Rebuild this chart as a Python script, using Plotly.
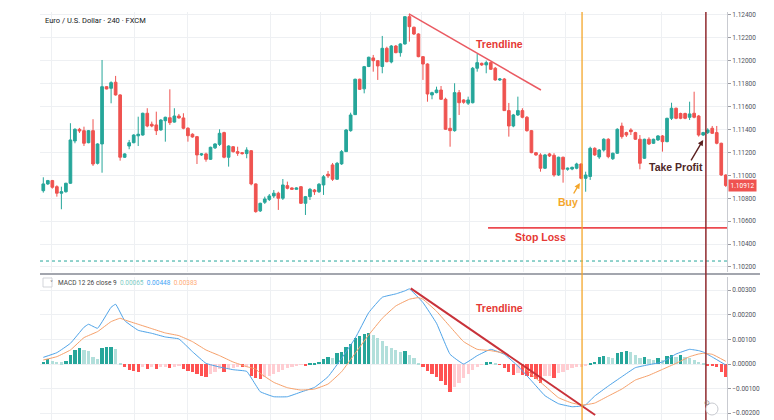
import plotly.graph_objects as go

# ---------------- data ----------------
candle_idx = list(range(152))
open_ = [1.10866,1.10925,1.10954,1.10901,1.10844,1.10857,1.10931,1.11300,1.11402,1.11390,
         1.11285,1.11390,1.11105,1.11274,1.11774,1.11760,1.11813,1.11702,1.11158,1.11256,
         1.11285,1.11345,1.11352,1.11542,1.11446,1.11440,1.11396,1.11477,1.11503,1.11465,
         1.11518,1.11501,1.11411,1.11359,1.11338,1.11178,1.11187,1.11140,1.11240,1.11270,
         1.11373,1.11158,1.11250,1.11207,1.11198,1.11190,1.11215,1.10925,1.10690,1.10765,
         1.10790,1.10820,1.10844,1.10800,1.10910,1.10890,1.10878,1.10901,1.10756,1.10814,
         1.10872,1.10857,1.10916,1.11010,1.11091,1.10966,1.11100,1.11207,1.11390,1.11530,
         1.11839,1.11755,1.11950,1.12025,1.12001,1.11950,1.12109,1.11990,1.12129,1.12071,
         1.12147,1.12385,1.12293,1.12234,1.12036,1.11972,1.11702,1.11722,1.11745,1.11664,
         1.11411,1.11390,1.11722,1.11658,1.11630,1.11634,1.11935,1.11978,1.11964,1.11984,
         1.11935,1.11833,1.11841,1.11565,1.11431,1.11527,1.11565,1.11507,1.11390,1.11198,
         1.11178,1.11062,1.11187,1.11175,1.11003,1.11158,1.11053,1.11055,1.11062,1.11099,
         1.10974,1.10990,1.11236,1.11160,1.11221,1.11315,1.11145,1.11193,1.11430,1.11373,
         1.11396,1.11373,1.11315,1.11149,1.11315,1.11280,1.11309,1.11344,1.11294,1.11498,
         1.11586,1.11540,1.11540,1.11507,1.11542,1.11518,1.11352,1.11373,1.11411,1.11373,
         1.11280,1.11003]
high = [1.10983,1.10960,1.10960,1.10913,1.10901,1.10935,1.11455,1.11411,1.11414,1.11425,
        1.11396,1.11490,1.11280,1.12007,1.11780,1.11821,1.11868,1.11708,1.11193,1.11309,
        1.11359,1.11512,1.11547,1.11586,1.11469,1.11556,1.11490,1.11512,1.11751,1.11586,
        1.11536,1.11542,1.11420,1.11367,1.11344,1.11193,1.11198,1.11250,1.11280,1.11402,
        1.11381,1.11262,1.11256,1.11250,1.11204,1.11245,1.11221,1.10930,1.10761,1.10814,
        1.10837,1.10872,1.10857,1.10968,1.10945,1.10896,1.10896,1.10905,1.10820,1.10890,
        1.10881,1.10933,1.11003,1.11038,1.11108,1.11117,1.11221,1.11405,1.11547,1.11844,
        1.11844,1.11955,1.12036,1.12051,1.12007,1.12217,1.12123,1.12138,1.12138,1.12153,
        1.12391,1.12409,1.12298,1.12240,1.12042,1.11978,1.11730,1.11774,1.11780,1.11678,
        1.11501,1.11804,1.11745,1.11664,1.11687,1.11946,1.12060,1.11984,1.12001,1.11990,
        1.11946,1.11850,1.11850,1.11632,1.11536,1.11687,1.11586,1.11518,1.11396,1.11204,
        1.11193,1.11187,1.11196,1.11193,1.11163,1.11163,1.11068,1.11076,1.11110,1.11105,
        1.11032,1.11250,1.11245,1.11230,1.11324,1.11324,1.11198,1.11411,1.11460,1.11381,
        1.11411,1.11380,1.11352,1.11320,1.11332,1.11320,1.11352,1.11352,1.11503,1.11634,
        1.11591,1.11547,1.11547,1.11643,1.11730,1.11527,1.11380,1.11411,1.11431,1.11431,
        1.11285,1.11009]
low = [1.10849,1.10916,1.10884,1.10814,1.10704,1.10849,1.10925,1.11280,1.11370,1.11256,
       1.11280,1.11082,1.11095,1.11023,1.11751,1.11629,1.11696,1.11128,1.11152,1.11228,
       1.11280,1.11256,1.11346,1.11420,1.11420,1.11352,1.11390,1.11294,1.11440,1.11460,
       1.11495,1.11402,1.11294,1.11329,1.11099,1.11170,1.11119,1.11134,1.11230,1.11256,
       1.11149,1.11076,1.11198,1.11170,1.11181,1.11149,1.10913,1.10674,1.10680,1.10750,
       1.10776,1.10802,1.10698,1.10785,1.10878,1.10872,1.10875,1.10750,1.10654,1.10785,
       1.10829,1.10846,1.10829,1.10977,1.10951,1.10960,1.11091,1.11204,1.11381,1.11527,
       1.11745,1.11716,1.11945,1.11905,1.11833,1.11891,1.11987,1.11978,1.12066,1.12036,
       1.12141,1.12167,1.12225,1.12031,1.11833,1.11643,1.11664,1.11716,1.11658,1.11396,
       1.11250,1.11381,1.11527,1.11625,1.11614,1.11628,1.11905,1.11955,1.11891,1.11920,
       1.11826,1.11824,1.11562,1.11338,1.11420,1.11518,1.11498,1.11381,1.11193,1.11170,
       1.11032,1.11055,1.11160,1.10988,1.10995,1.10936,1.11040,1.11045,1.11053,1.10966,
       1.10857,1.10960,1.11170,1.11143,1.11207,1.11149,1.11134,1.11187,1.11320,1.11335,
       1.11352,1.11309,1.11053,1.11143,1.11265,1.11274,1.11300,1.11207,1.11289,1.11483,
       1.11490,1.11490,1.11490,1.11483,1.11498,1.11338,1.11344,1.11361,1.11361,1.11271,
       1.10995,1.10898]
close = [1.10925,1.10954,1.10896,1.10844,1.10857,1.10931,1.11309,1.11402,1.11387,1.11280,
         1.11390,1.11099,1.11274,1.11774,1.11754,1.11809,1.11702,1.11158,1.11187,1.11285,
         1.11352,1.11359,1.11542,1.11431,1.11431,1.11390,1.11483,1.11507,1.11460,1.11518,
         1.11501,1.11411,1.11346,1.11335,1.11178,1.11187,1.11140,1.11245,1.11274,1.11367,
         1.11158,1.11256,1.11207,1.11193,1.11190,1.11221,1.10925,1.10683,1.10756,1.10794,
         1.10820,1.10844,1.10800,1.10916,1.10887,1.10878,1.10890,1.10756,1.10814,1.10878,
         1.10857,1.10922,1.10988,1.10995,1.10966,1.11105,1.11207,1.11396,1.11527,1.11839,
         1.11751,1.11949,1.12031,1.12001,1.11955,1.12109,1.11992,1.12129,1.12071,1.12147,
         1.12385,1.12298,1.12234,1.12036,1.11972,1.11710,1.11722,1.11745,1.11664,1.11402,
         1.11390,1.11722,1.11634,1.11638,1.11658,1.11935,1.11984,1.11964,1.11984,1.11926,
         1.11833,1.11841,1.11565,1.11431,1.11527,1.11565,1.11507,1.11390,1.11198,1.11178,
         1.11062,1.11178,1.11169,1.11003,1.11158,1.11053,1.11062,1.11070,1.11099,1.10974,
         1.11003,1.11236,1.11178,1.11221,1.11315,1.11163,1.11193,1.11402,1.11338,1.11352,
         1.11381,1.11315,1.11105,1.11315,1.11274,1.11315,1.11344,1.11294,1.11498,1.11586,
         1.11498,1.11498,1.11498,1.11536,1.11507,1.11352,1.11373,1.11396,1.11367,1.11280,
         1.11003,1.10912]

hist = [9.5e-5,19e-5,13.6e-5,9.5e-5,6.8e-5,13.6e-5,36.6e-5,57e-5,63.8e-5,57e-5,
        54.3e-5,27e-5,19e-5,63.8e-5,67.9e-5,70.6e-5,59.7e-5,5.4e-5,-13.6e-5,-24.4e-5,
        -27.1e-5,-31.2e-5,-10.9e-5,-21.7e-5,-13.6e-5,-21.7e-5,-13.6e-5,-10.9e-5,-16.3e-5,-10.9e-5,
        -8.1e-5,-21.7e-5,-27.1e-5,-31.2e-5,-40.7e-5,-48.9e-5,-54.3e-5,-40.7e-5,-31.2e-5,-21.7e-5,
        -31.2e-5,-21.7e-5,-17.6e-5,-13.6e-5,-13.6e-5,-10.9e-5,-48.9e-5,-58e-5,-62.4e-5,-54.3e-5,
        -48.9e-5,-40.7e-5,-31.2e-5,-24.4e-5,-17.6e-5,-10.9e-5,-6.8e-5,-2.7e-5,-4.1e-5,2.7e-5,
        5.4e-5,9.5e-5,19e-5,27.1e-5,26e-5,43.4e-5,50.2e-5,67.9e-5,81.4e-5,104.5e-5,
        114e-5,122.1e-5,124.8e-5,118e-5,104.5e-5,95e-5,73.3e-5,63.8e-5,57e-5,47e-5,
        52e-5,36.6e-5,23.1e-5,5.4e-5,-13.6e-5,-27.1e-5,-40.7e-5,-54.3e-5,-67.9e-5,-85.5e-5,
        -112.6e-5,-95e-5,-78.7e-5,-58.4e-5,-40.7e-5,-24.4e-5,-10.9e-5,-1.4e-5,8.1e-5,9e-5,
        2.7e-5,-1e-5,-17.6e-5,-31.2e-5,-44.8e-5,-38e-5,-44.8e-5,-48.9e-5,-54.3e-5,-62.4e-5,
        -76e-5,-48.9e-5,-47e-5,-58.4e-5,-38e-5,-31.2e-5,-24.4e-5,-17.6e-5,-13.6e-5,-10.9e-5,
        -6.8e-5,5.4e-5,9.5e-5,27.1e-5,32.6e-5,27.1e-5,26e-5,46.1e-5,50.2e-5,51e-5,
        49e-5,36.6e-5,26e-5,28e-5,19e-5,18e-5,23.1e-5,16.3e-5,32.6e-5,36.6e-5,
        29.9e-5,36.6e-5,27.1e-5,23.1e-5,16.3e-5,9.5e-5,2.7e-5,-5.4e-5,-8.1e-5,-10.9e-5,
        -31.2e-5,-51.6e-5]

macd_x = [0,3,6,9,10,12,15,16,18,21,24,27,30,33,36,39,42,45,47,48,51,54,57,60,63,66,69,72,75,78,
          80,81,84,87,90,93,96,99,102,105,108,111,114,117,119,120,122,125,128,131,134,137,140,143,
          145,146,148,151]
macd_line = [27.1e-5,46.1e-5,84.1e-5,149.3e-5,161.5e-5,145.2e-5,230.7e-5,242.9e-5,176.4e-5,137.1e-5,
             124.8e-5,109.9e-5,101.8e-5,50.2e-5,2.7e-5,-12.2e-5,-23.1e-5,-29.9e-5,-85.5e-5,-112.6e-5,
             -133e-5,-133e-5,-114e-5,-95e-5,-51.6e-5,23.1e-5,104.5e-5,209e-5,271.4e-5,285e-5,
             297.2e-5,305.3e-5,249.7e-5,165.6e-5,39.4e-5,0.0,33.9e-5,59.7e-5,39.4e-5,-8.1e-5,
             -67.9e-5,-128.9e-5,-161.5e-5,-173.7e-5,-171e-5,-165.6e-5,-130.3e-5,-89.6e-5,-51.6e-5,-14.9e-5,
             -2.7e-5,8.1e-5,40.7e-5,59.7e-5,54.3e-5,48.9e-5,28.5e-5,-4.1e-5]

signal_x = [0,3,6,9,12,15,17,18,21,24,27,30,33,36,39,42,45,47,48,51,54,57,60,63,66,69,72,75,78,81,
            83,84,87,90,93,96,99,102,105,108,111,114,117,119,120,122,125,128,131,134,137,140,143,145,
            146,148,151]
signal_line = [16.3e-5,29.9e-5,57e-5,107.2e-5,131.6e-5,172.3e-5,185.9e-5,179.1e-5,161.5e-5,143.8e-5,
               126.2e-5,115.3e-5,90.9e-5,57e-5,33.9e-5,8.1e-5,-10.9e-5,-20.4e-5,-38e-5,-74.6e-5,
               -96.3e-5,-105.8e-5,-101.8e-5,-81.4e-5,-31.2e-5,43.4e-5,118.1e-5,185.9e-5,236.1e-5,263.3e-5,
               270e-5,263.3e-5,214.4e-5,152e-5,90.9e-5,59.7e-5,54.3e-5,43.4e-5,9.5e-5,-42.1e-5,
               -89.6e-5,-137.1e-5,-158.8e-5,-165.6e-5,-165.6e-5,-158.8e-5,-130.3e-5,-101.8e-5,-65.1e-5,-46.1e-5,
               -21.7e-5,2.7e-5,29.9e-5,40.7e-5,43.4e-5,39.4e-5,10.9e-5]

price_ticks = [1.102,1.104,1.106,1.108,1.110,1.112,1.114,1.116,1.118,1.120,1.122,1.124]
macd_ticks = [-0.002,-0.001,0.0,0.001,0.002,0.003]
last_price = 1.10912
stop_loss = 1.10541
dotted_level = 1.10252
buy_bar = 119.2
tp_bar = 146.6
trend_price = ([80.9, 110.1], [1.12409, 1.11745])
trend_macd = ([81.3, 122.1], [0.003077, -0.002073])
legend_vals = ["0.00065", "0.00448", "0.00383"]

# ---------------- styling ----------------
UP, DOWN = "#26a69a", "#ef5350"
GRID = "#eef0f3"
FONT = "Roboto"
XR = [-0.73, 151.27]
grid_x = [1.9, 20.1, 32.0, 50.2, 61.4, 72.5, 83.6, 94.4, 106.3, 115.6, 136.7]

hist_colors = []
for i, v in enumerate(hist):
    prev = hist[i - 1] if i > 0 else v
    if v >= 0:
        hist_colors.append("#26a69a" if v >= prev else "#b2dfdb")
    else:
        hist_colors.append("#ff5252" if v <= prev else "#ffcdd2")

fig = go.Figure()
fig.add_trace(go.Candlestick(
    x=candle_idx, open=open_, high=high, low=low, close=close,
    increasing=dict(line=dict(color=UP, width=1), fillcolor=UP),
    decreasing=dict(line=dict(color=DOWN, width=1), fillcolor=DOWN),
    whiskerwidth=0, showlegend=False, hoverinfo="skip", xaxis="x", yaxis="y"))
fig.add_trace(go.Bar(x=candle_idx, y=hist, marker=dict(color=hist_colors, line=dict(width=0)),
                     width=0.72, showlegend=False, hoverinfo="skip", xaxis="x2", yaxis="y2"))
fig.add_trace(go.Scatter(x=macd_x, y=macd_line, mode="lines",
                         line=dict(color="#4ea3e8", width=1, shape="spline", smoothing=0.3),
                         showlegend=False, hoverinfo="skip", xaxis="x2", yaxis="y2"))
fig.add_trace(go.Scatter(x=signal_x, y=signal_line, mode="lines",
                         line=dict(color="#f6a06a", width=1, shape="spline", smoothing=0.3),
                         showlegend=False, hoverinfo="skip", xaxis="x2", yaxis="y2"))

axis_common = dict(showgrid=True, gridcolor=GRID, gridwidth=1, zeroline=False)
fig.update_layout(
    width=774, height=420, margin=dict(l=40, r=47, t=12, b=0),
    paper_bgcolor="white", plot_bgcolor="white", bargap=0, boxgap=0.15,
    font=dict(family=FONT, size=7, color="#4a4d57"),
    xaxis=dict(domain=[0, 1], range=XR, anchor="y", tickvals=grid_x, showticklabels=False,
               ticks="", rangeslider=dict(visible=False), **axis_common),
    xaxis2=dict(domain=[0, 1], range=XR, anchor="y2", matches="x", tickvals=grid_x,
                showticklabels=False, ticks="", **axis_common),
    yaxis=dict(domain=[0.3627, 1], range=[1.10156, 1.12426], side="right", anchor="x",
               tickvals=price_ticks, tickformat=".5f", ticks="outside", ticklen=3,
               tickcolor="#9a9ca3", showline=True, linecolor="#c9cbd1", linewidth=1,
               tickfont=dict(size=6.5, color="#50535e"), **axis_common),
    yaxis2=dict(domain=[0, 0.3505], range=[-0.002276, 0.003537], side="right", anchor="x2",
                tickvals=macd_ticks, tickformat=".5f", ticks="outside", ticklen=3,
                tickcolor="#9a9ca3", showline=True, linecolor="#c9cbd1", linewidth=1,
                tickfont=dict(size=6.5, color="#50535e"), **axis_common),
)

shapes = [
    dict(type="line", xref="paper", yref="paper", x0=0, x1=1.048, y0=0.3578, y1=0.3578,
         line=dict(color="#a3a6ae", width=2)),
    dict(type="line", xref="paper", yref="y", x0=0, x1=1, y0=dotted_level, y1=dotted_level,
         line=dict(color="#26a69a", width=1, dash="dot")),
    dict(type="line", xref="x", yref="y", x0=98.4, x1=XR[1], y0=stop_loss, y1=stop_loss,
         line=dict(color="#ec4a50", width=1.6)),
    dict(type="line", xref="x", yref="y", x0=trend_price[0][0], x1=trend_price[0][1],
         y0=trend_price[1][0], y1=trend_price[1][1], line=dict(color="#ea5a62", width=1.5)),
    dict(type="line", xref="x2", yref="y2", x0=trend_macd[0][0], x1=trend_macd[0][1],
         y0=trend_macd[1][0], y1=trend_macd[1][1], line=dict(color="#c8323a", width=2)),
    dict(type="line", xref="x", yref="paper", x0=buy_bar, x1=buy_bar, y0=0, y1=1,
         line=dict(color="#f4a62a", width=1.3)),
    dict(type="line", xref="x", yref="paper", x0=tp_bar, x1=tp_bar, y0=0, y1=1,
         line=dict(color="#8f2a2e", width=1.5)),
    dict(type="circle", xref="paper", yref="paper", x0=(706 - 40) / 687, x1=(718 - 40) / 687,
         y0=(420 - 415) / 408, y1=(420 - 403) / 408, line=dict(color="#c8cad0", width=1),
         fillcolor="white"),
    dict(type="rect", xref="paper", yref="paper", x0=(43 - 40) / 687, x1=(52 - 40) / 687,
         y0=(420 - 287) / 408, y1=(420 - 278) / 408, line=dict(color="#c8cad0", width=0.8),
         fillcolor="white"),
]
fig.update_layout(shapes=shapes)

bold = dict(family="Liberation Sans", size=10.5)
ann = [
    dict(xref="paper", yref="paper", x=(43 - 40) / 687, y=(420 - 20) / 408, xanchor="left",
         yanchor="middle", showarrow=False, text="Euro / U.S. Dollar · 240 · FXCM",
         font=dict(family=FONT, size=7.5, color="#131722")),
    dict(xref="x", yref="y", x=101, y=1.12147, showarrow=False, text="<b>Trendline</b>",
         font=dict(color="#e53935", **bold)),
    dict(xref="x", yref="y", x=109.9, y=1.10462, showarrow=False, text="<b>Stop Loss</b>",
         font=dict(color="#e53935", **bold)),
    dict(xref="x", yref="y", x=116, y=1.10768, showarrow=False, text="<b>Buy</b>",
         font=dict(color="#f4a62a", **bold)),
    dict(xref="x", yref="y", x=140, y=1.11073, showarrow=False, text="<b>Take Profit</b>",
         font=dict(color="#4e2727", **bold)),
    dict(xref="x2", yref="y2", x=101, y=0.002276, showarrow=False, text="<b>Trendline</b>",
         font=dict(color="#e53935", **bold)),
    dict(xref="x", yref="y", x=118.7, y=1.10933, ax=-7, ay=12, axref="pixel", ayref="pixel",
         text="", showarrow=True, arrowhead=2, arrowsize=0.8, arrowwidth=1.4, arrowcolor="#f4a62a"),
    dict(xref="x", yref="y", x=146.0, y=1.11309, ax=-13, ay=22, axref="pixel", ayref="pixel",
         text="", showarrow=True, arrowhead=2, arrowsize=0.8, arrowwidth=1.4, arrowcolor="#5b2020"),
    dict(xref="paper", yref="y", x=1.0015, y=last_price, xanchor="left", yanchor="middle",
         showarrow=False, text=f"{last_price:.5f}", bgcolor="#ef5350", borderpad=1.5,
         font=dict(family=FONT, size=6.5, color="white")),
    dict(xref="paper", yref="paper", x=(47.5 - 40) / 687, y=(420 - 282.5) / 408, showarrow=False,
         text="˅", font=dict(family="DejaVu Sans", size=6, color="#555")),
    dict(xref="paper", yref="paper", x=(56 - 40) / 687, y=(420 - 282.5) / 408, xanchor="left",
         yanchor="middle", showarrow=False,
         text=("MACD 12 26 close 9  "
               f"<span style='color:#80cbc4'>{legend_vals[0]}</span>  "
               f"<span style='color:#42a5f5'>{legend_vals[1]}</span>  "
               f"<span style='color:#ffab76'>{legend_vals[2]}</span>"),
         font=dict(family=FONT, size=6.5, color="#444")),
    dict(xref="paper", yref="paper", x=(712 - 40) / 687, y=(420 - 409) / 408, showarrow=False,
         text="⊙", font=dict(family="DejaVu Sans", size=7, color="#777")),
]
fig.update_layout(annotations=ann)

fig.write_html("out.html", config={"displayModeBar": False})
